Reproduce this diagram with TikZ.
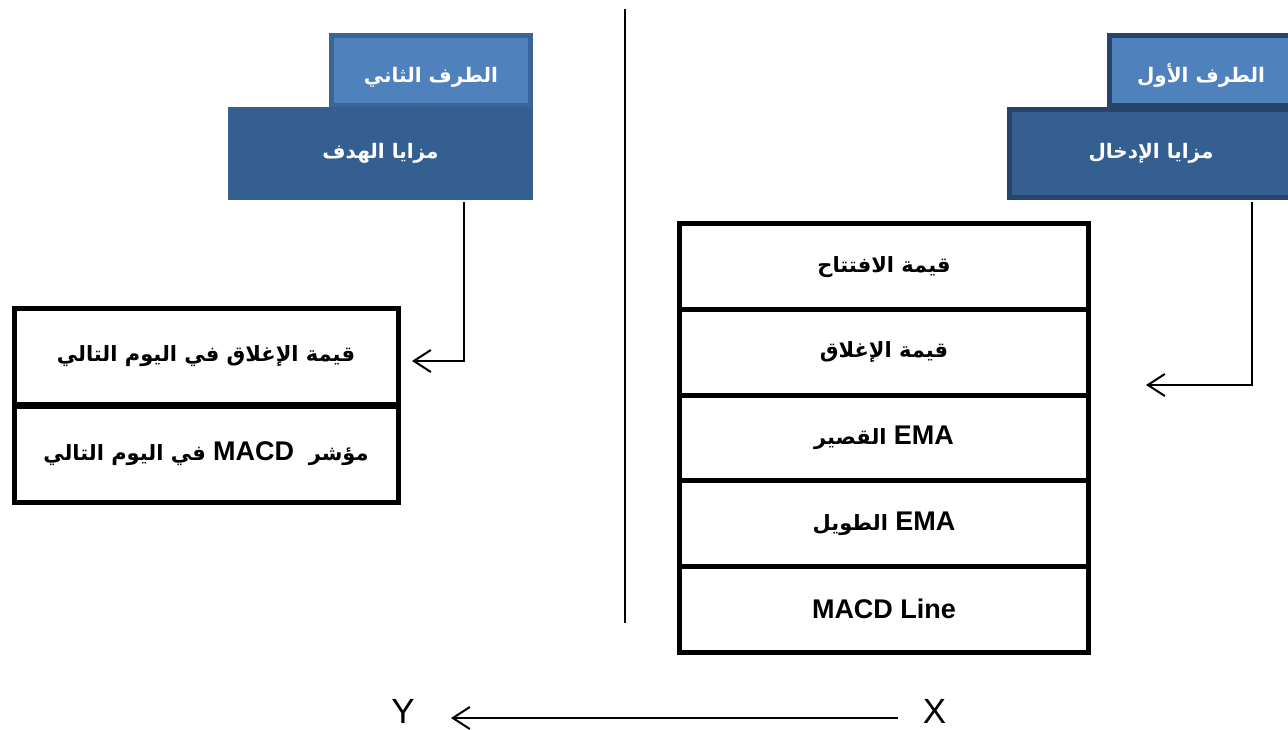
\documentclass[tikz,border=0pt]{standalone}
\usepackage{fontspec}
\setmainfont{Liberation Sans}
\newfontfamily\arabicfont[Script=Arabic]{DejaVu Sans}
\TeXXeTstate=1
\usetikzlibrary{arrows.meta,calc}
\definecolor{hdrtop}{HTML}{4F81BD}
\definecolor{hdrbot}{HTML}{365F91}
\definecolor{hdrdark}{HTML}{274469}
\definecolor{hdredge}{HTML}{3B6598}
\newcommand\artxt[1]{{\arabicfont\bfseries\beginR #1\endR}}
\newcommand\lattxt[1]{\beginL{\rmfamily\bfseries\fontsize{27}{30}\selectfont #1}\endL{}}
\begin{document}
\begin{tikzpicture}[x=1pt,y=-1pt,
  hdr/.style={inner sep=0pt, line width=5pt, text=white, font=\fontsize{20}{24}\selectfont},
  hdrlow/.style={text height=26pt, text depth=2pt},
  tblrow/.style={draw=black, line width=5pt, inner sep=0pt, font=\fontsize{21}{25}\selectfont},
  rrow/.style={tblrow, minimum width=409pt, minimum height=85.6pt},
  lrow/.style={tblrow, minimum width=384pt, minimum height=96pt},
  conn/.style={draw=black, line width=2pt},
  arr/.style={conn, -{Straight Barb[length=17pt,width=22pt,line width=2pt]}},
  axis/.style={font=\fontsize{35}{38}\selectfont, inner sep=0pt, anchor=base}
]
\useasboundingbox (0,0) rectangle (1288,730);

% right headers
\node[hdr, hdrlow, fill=hdrtop, draw=hdrdark, minimum width=183pt, minimum height=70pt] (h1top) at (1201,70.5) {\artxt{الطرف الأول}};
\node[hdr, fill=hdrbot, draw=hdrdark, minimum width=283pt, minimum height=88pt] (h1bot) at (1151,153.5) {\artxt{مزايا الإدخال}};

% left headers
\node[hdr, hdrlow, fill=hdrtop, draw=hdredge, minimum width=199pt, minimum height=70pt] (h2top) at (431,70.5) {\artxt{الطرف الثاني}};
\node[hdr, fill=hdrbot, minimum width=305pt, minimum height=93pt] (h2bot) at (380.5,153.5) {\artxt{مزايا الهدف}};

% right table
\node[rrow] (r1) at (884,266.8) {\artxt{قيمة الافتتاح}};
\node[rrow] (r2) at (884,352.4) {\artxt{قيمة الإغلاق}};
\node[rrow] (r3) at (884,438.0) {\artxt{\lattxt{EMA} القصير}};
\node[rrow] (r4) at (884,523.6) {\artxt{\lattxt{EMA} الطويل}};
\node[rrow] (r5) at (884,609.2) {\bfseries\fontsize{27}{30}\selectfont MACD Line};

% left table
\node[lrow] (l1) at (206,356) {\artxt{قيمة الإغلاق في اليوم التالي}};
\node[lrow] (l2) at (206,454) {\artxt{مؤشر\ \ \lattxt{MACD} في اليوم التالي}};

% connectors
\coordinate (c1e) at (1146,385);
\draw[arr] ($(h1bot.south west)+(244.5,2.5)$) |- (c1e);
\coordinate (c2e) at (412,361);
\draw[arr] ($(h2bot.south west)+(238,0)$) |- (c2e);

% divider
\coordinate (dtop) at (625,9);
\coordinate (dbot) at (625,623);
\draw[line width=2.5pt] (dtop) -- (dbot);

% X -> Y
\node[axis] (Y) at (403,723) {Y};
\node[axis] (X) at (934.5,723) {X};
\coordinate (xa) at (898,718);
\coordinate (ya) at (451,718);
\draw[arr] (xa) -- (ya);
\end{tikzpicture}
\end{document}
